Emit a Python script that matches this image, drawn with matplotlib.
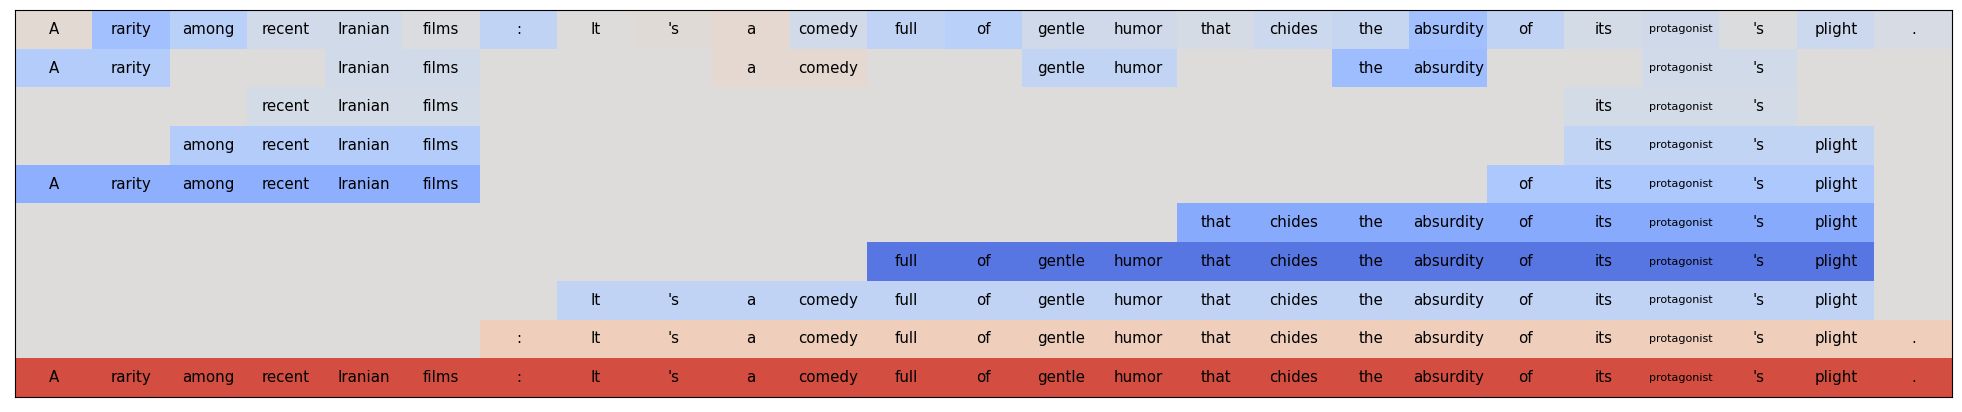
import numpy as np
import matplotlib
matplotlib.use("Agg")
import matplotlib.pyplot as plt

tokens = ["A", "rarity", "among", "recent", "Iranian", "films", ":", "It", "'s", "a",
          "comedy", "full", "of", "gentle", "humor", "that", "chides", "the", "absurdity",
          "of", "its", "protagonist", "'s", "plight", "."]

N = None
# one row per explanation, None = token not shown
scores = [
    [0.05, -0.38, -0.24, -0.08, -0.08, -0.02, -0.2, 0.0, 0.03, 0.06,
     -0.08, -0.2, -0.24, -0.1, -0.1, -0.06, -0.12, -0.15, -0.38,
     -0.2, -0.07, -0.1, -0.01, -0.12, -0.05],
    [-0.28, -0.28, N, N, -0.08, -0.08, N, N, N, 0.07,
     0.07, N, N, -0.18, -0.18, N, N, -0.4, -0.4,
     N, N, -0.08, -0.08, N, N],
    [N, N, N, -0.07, -0.07, -0.07, N, N, N, N,
     N, N, N, N, N, N, N, N, N,
     N, -0.07, -0.07, -0.07, N, N],
    [N, N, -0.28, -0.28, -0.28, -0.28, N, N, N, N,
     N, N, N, N, N, N, N, N, N,
     N, -0.18, -0.18, -0.18, -0.18, N],
    [-0.5, -0.5, -0.5, -0.5, -0.5, -0.5, N, N, N, N,
     N, N, N, N, N, N, N, N, N,
     -0.32, -0.32, -0.32, -0.32, -0.32, N],
    [N, N, N, N, N, N, N, N, N, N,
     N, N, N, N, N, -0.53, -0.53, -0.53, -0.53,
     -0.53, -0.53, -0.53, -0.53, -0.53, N],
    [N, N, N, N, N, N, N, N, N, N,
     N, -0.8, -0.8, -0.8, -0.8, -0.8, -0.8, -0.8, -0.8,
     -0.8, -0.8, -0.8, -0.8, -0.8, N],
    [N, N, N, N, N, N, N, -0.2, -0.2, -0.2,
     -0.2, -0.2, -0.2, -0.2, -0.2, -0.2, -0.2, -0.2, -0.2,
     -0.2, -0.2, -0.2, -0.2, -0.2, N],
    [N, N, N, N, N, N, 0.17, 0.17, 0.17, 0.17,
     0.17, 0.17, 0.17, 0.17, 0.17, 0.17, 0.17, 0.17, 0.17,
     0.17, 0.17, 0.17, 0.17, 0.17, 0.17],
    [0.82] * 25,
]

vals = np.array([[0.0 if v is None else v for v in row] for row in scores])

fig = plt.figure(figsize=(19.62, 4.12), dpi=100)
ax = fig.add_axes([15 / 1962, 15 / 412, 1937 / 1962, 387 / 412])
ax.imshow(vals, cmap="coolwarm", vmin=-1, vmax=1, aspect="auto", interpolation="nearest")

for i, row in enumerate(scores):
    for j, v in enumerate(row):
        if v is None:
            continue
        word = tokens[j]
        fs = 8 if len(word) > 10 else 10.8
        ax.text(j, i, word, ha="center", va="center", fontsize=fs, color="black")

ax.set_xticks([])
ax.set_yticks([])
fig.savefig("out.png", dpi=100)
